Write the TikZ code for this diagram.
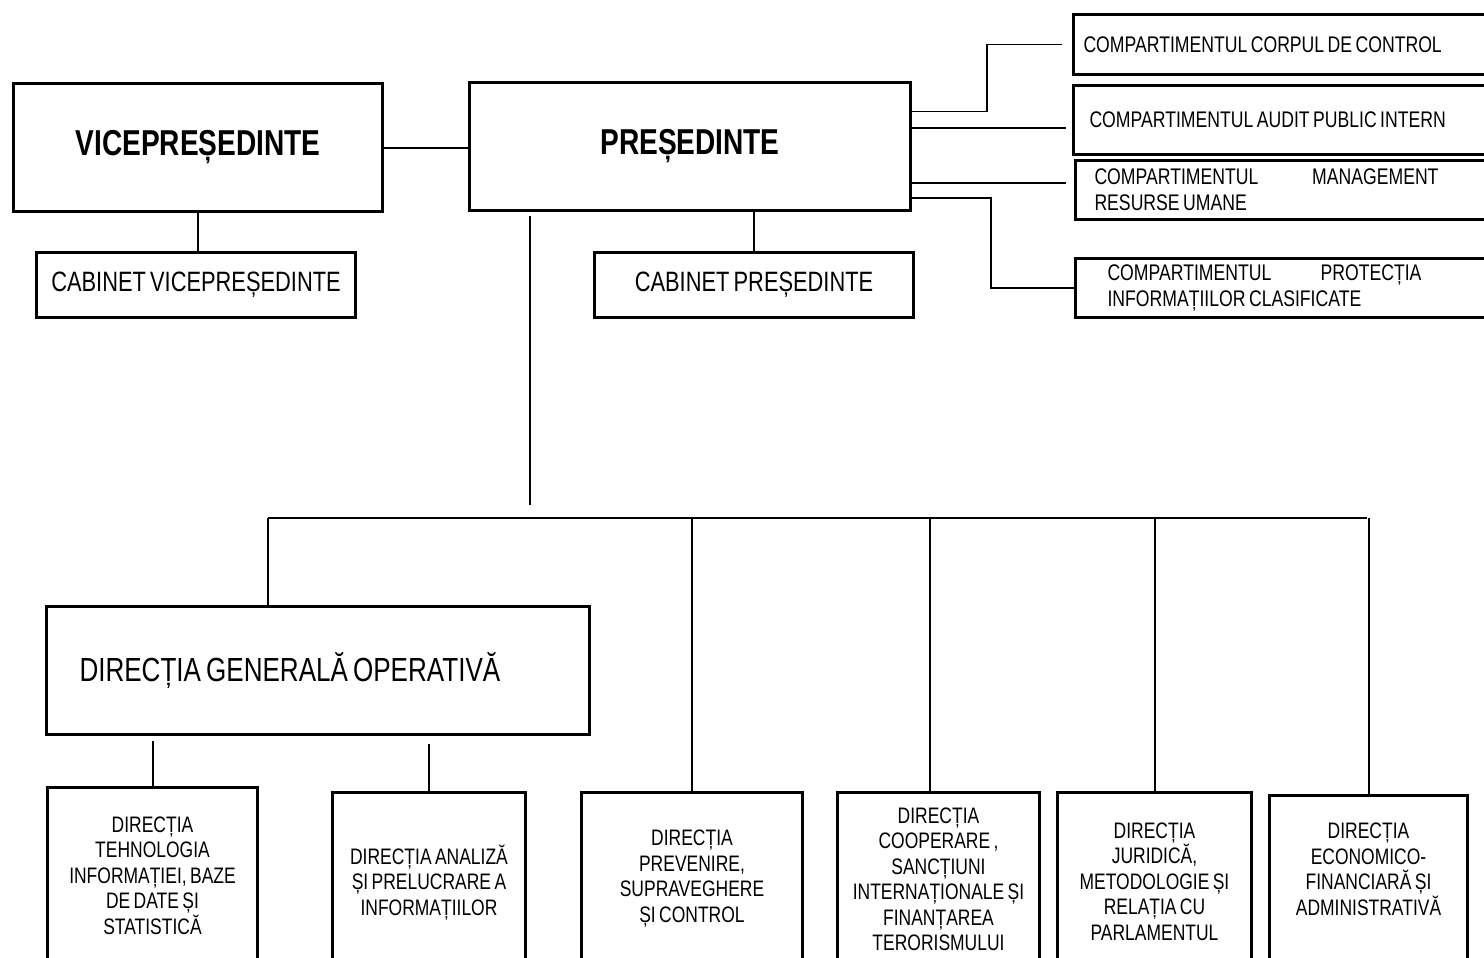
\documentclass[tikz,border=0pt]{standalone}
\usepackage{fontspec}
\setmainfont{Liberation Sans}[FakeStretch=0.78, WordSpace=0.7]

\begin{document}
\begin{tikzpicture}[x=0.5pt, y=-0.5pt,
  box/.style={draw, line width=1.5pt, anchor=north west, inner sep=0pt},
  boss/.style={box, font=\fontsize{18}{21}\selectfont\bfseries},
  cab/.style={box, font=\fontsize{14}{16}\selectfont},
  comp/.style={box, align=flush left, text width=200pt, inner xsep=5pt, font=\fontsize{11.3}{13}\selectfont},
  dir/.style={box, align=center, font=\fontsize{11.2}{12.75}\selectfont},
  link/.style={line width=1pt}]
  \clip (0,0) rectangle (1484,958);

  % Conducere
  \node[boss, minimum width=184.5pt, minimum height=64pt] (vp) at (12,82) {VICEPREȘEDINTE};
  \node[boss, minimum width=220.5pt, minimum height=64pt] (pres) at (468,81) {PREȘEDINTE};
  \node[cab, minimum width=159.5pt, minimum height=32.5pt] (cabvp) at (35,251) {CABINET VICEPREȘEDINTE};
  \node[cab, minimum width=159.5pt, minimum height=32.5pt] (cabp) at (593,251) {CABINET PREȘEDINTE};

  % Compartimente
  \node[comp, minimum height=30pt] (corp) at (1072,13) {COMPARTIMENTUL CORPUL DE CONTROL};
  \node[comp, minimum height=34.5pt, inner xsep=8pt] (audit) at (1072,84) {COMPARTIMENTUL AUDIT PUBLIC INTERN};
  \node[comp, minimum height=29.5pt, inner xsep=9.5pt] (mgmt) at (1074,159)
    {\makebox[172pt][s]{COMPARTIMENTUL\hfill MANAGEMENT}\\RESURSE UMANE};
  \node[comp, minimum height=29.5pt, inner xsep=16pt] (prot) at (1074,257)
    {\makebox[157pt][s]{COMPARTIMENTUL\hfill PROTECȚIA}\\INFORMAȚIILOR CLASIFICATE};

  % Directii
  \node[box, minimum height=64pt, text width=238.5pt, inner xsep=16.5pt, align=flush left,
    font=\fontsize{16.7}{19}\selectfont] (dgo) at (45,605) {DIRECȚIA GENERALĂ OPERATIVĂ};
  \node[dir, minimum width=105pt, minimum height=88pt] (dirT) at (46,786)
    {DIRECȚIA\\TEHNOLOGIA\\INFORMAȚIEI, BAZE\\DE DATE ȘI\\STATISTICĂ};
  \node[dir, minimum width=96.5pt, minimum height=90pt] (dirA) at (331,791)
    {DIRECȚIA ANALIZĂ\\ȘI PRELUCRARE A\\INFORMAȚIILOR};
  \node[dir, minimum width=110.5pt, minimum height=86pt] (dirP) at (580,791)
    {DIRECȚIA\\PREVENIRE,\\SUPRAVEGHERE\\ȘI CONTROL};
  \node[dir, minimum width=101pt, minimum height=87pt] (dirC) at (836,791)
    {DIRECȚIA\\COOPERARE ,\\SANCȚIUNI\\INTERNAȚIONALE ȘI\\FINANȚAREA\\TERORISMULUI};
  \node[dir, minimum width=97pt, minimum height=89pt] (dirJ) at (1056,791)
    {DIRECȚIA\\JURIDICĂ,\\METODOLOGIE ȘI\\RELAȚIA CU\\PARLAMENTUL};
  \node[dir, minimum width=99pt, minimum height=90pt] (dirE) at (1268,794)
    {DIRECȚIA\\ECONOMICO-\\FINANCIARĂ ȘI\\ADMINISTRATIVĂ\\\strut};

  % Legaturi conducere
  \draw[link] (vp.east) -- (vp.east -| pres.west);
  \draw[link] (vp.south) -- (vp.south |- cabvp.north);
  \draw[link] (cabp.north) -- (cabp.north |- pres.south);

  % Legaturi compartimente
  \coordinate (tapA) at ([yshift=17.5pt]pres.east);
  \coordinate (tapB) at ([yshift=9.5pt]pres.east);
  \coordinate (tapC) at ([yshift=-18pt]pres.east);
  \coordinate (tapD) at ([yshift=-25.5pt]pres.east);
  \draw[link, line width=0.8pt, shorten >=5pt] (tapA) -| ([xshift=-42.5pt]corp.west) -- (corp.west);
  \draw[link, shorten >=3pt] (tapB) -- (tapB -| audit.west);
  \draw[link, shorten >=4pt] (tapC) -- (tapC -| mgmt.west);
  \draw[link] (tapD) -| ([xshift=-41.5pt]prot.west) -- (prot.west);

  % Linia directiilor
  \coordinate (ptap) at ([xshift=-80.25pt]pres.south);
  \coordinate (busL) at (268,518);
  \coordinate (busR) at (1367,518);
  \coordinate (dropC) at ([xshift=-4.5pt]dirC.north);
  \draw[link, shorten <=2pt, shorten >=6.5pt] (ptap) -- (ptap |- busL);
  \draw[link] (busL) -- (busR);
  \draw[link] (busL) -- (busL |- dgo.north);
  \draw[link] (dropC |- busL) -- (dropC);
  \foreach \d in {dirP, dirJ, dirE}
    \draw[link] (\d.north |- busL) -- (\d.north);

  % Directia generala operativa
  \draw[link, shorten >=2.5pt] (dirT.north) -- (dirT.north |- dgo.south);
  \draw[link, shorten >=4pt] (dirA.north) -- (dirA.north |- dgo.south);
\end{tikzpicture}
\end{document}
